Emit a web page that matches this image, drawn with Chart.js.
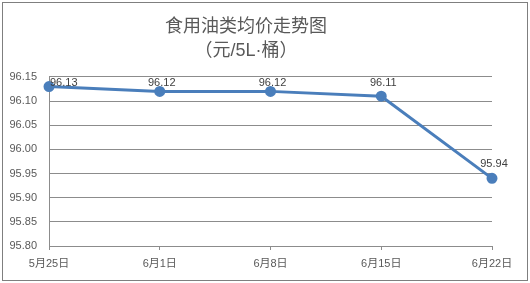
<!DOCTYPE html>
<html>
<head>
<meta charset="utf-8">
<script src="https://cdn.jsdelivr.net/npm/chart.js@4/dist/chart.umd.min.js"></script>
<style>
  html, body { margin: 0; padding: 0; background: #fff; }
  #wrap { width: 530px; height: 283px; }
</style>
</head>
<body>
<div id="wrap"><canvas id="lineChart" width="530" height="283"></canvas></div>
<script>
const categories = ['5月25日', '6月1日', '6月8日', '6月15日', '6月22日'];
const prices = [96.13, 96.12, 96.12, 96.11, 95.94];
const yMin = 95.80, yMax = 96.15, yStep = 0.05;

const textColor = '#595959';
const gridColor = '#8c8c8c';
const lineColor = '#4a7ebb';
const fontFamily = '"Liberation Sans", "Noto Sans CJK SC", sans-serif';

// grey frame around the whole picture
const framePlugin = {
    id: 'frame',
    beforeDraw(chart) {
        const c = chart.ctx;
        c.save();
        c.fillStyle = '#fff';
        c.fillRect(0, 0, chart.width, chart.height);
        c.strokeStyle = '#7f7f7f';
        c.lineWidth = 1;
        c.strokeRect(2.5, 2.5, chart.width - 5, chart.height - 5);
        c.restore();
    }
};

// value labels above each point, kept inside the plot area like Excel does
const labelPlugin = {
    id: 'valueLabels',
    afterDatasetsDraw(chart) {
        const c = chart.ctx;
        const area = chart.chartArea;
        const meta = chart.getDatasetMeta(0);
        c.save();
        c.font = '11px ' + fontFamily;
        c.fillStyle = '#404040';
        c.textBaseline = 'alphabetic';
        c.textAlign = 'left';
        meta.data.forEach((pt, i) => {
            const txt = prices[i].toFixed(2);
            const w = c.measureText(txt).width;
            let x = pt.x - w / 2 + 2;
            if (x < area.left + 1) x = area.left + 1;
            let y = pt.y - 11;
            if (y < area.top + 9) y = area.top + 9;
            c.fillText(txt, x, y);
        });
        c.restore();
    }
};

const ctx = document.getElementById('lineChart').getContext('2d');
ctx.letterSpacing = '1px';
const myChart = new Chart(ctx, {
    type: 'line',
    data: {
        labels: categories,
        datasets: [{
            data: prices,
            borderColor: lineColor,
            backgroundColor: lineColor,
            borderWidth: 3,
            pointRadius: 4,
            pointHoverRadius: 4,
            tension: 0,
            clip: false
        }]
    },
    options: {
        responsive: false,
        animation: false,
        layout: { padding: { left: 0, right: 38, top: 0, bottom: 4 } },
        plugins: {
            legend: { display: false },
            tooltip: { enabled: false },
            title: {
                display: true,
                text: ['食用油类均价走势图', '（元/5L·桶）'],
                color: textColor,
                font: { family: fontFamily, size: 18, weight: 'normal', lineHeight: 1.33 },
                padding: { top: 15, bottom: 14 }
            }
        },
        scales: {
            x: {
                offset: false,
                grid: { drawOnChartArea: false, drawTicks: true, tickLength: 4, color: gridColor },
                border: { display: true, color: gridColor },
                ticks: { color: textColor, font: { family: fontFamily, size: 11 }, padding: 7, maxRotation: 0 },
                afterFit(s) { s.height = 33; }
            },
            y: {
                min: yMin,
                max: yMax,
                grid: { color: gridColor, drawTicks: false },
                border: { display: true, color: gridColor },
                ticks: {
                    stepSize: yStep,
                    color: textColor,
                    font: { family: fontFamily, size: 11 },
                    padding: 12,
                    callback: v => v.toFixed(2)
                },
                afterFit(s) { s.width = 49; }
            }
        }
    },
    plugins: [framePlugin, labelPlugin]
});
</script>
</body>
</html>
